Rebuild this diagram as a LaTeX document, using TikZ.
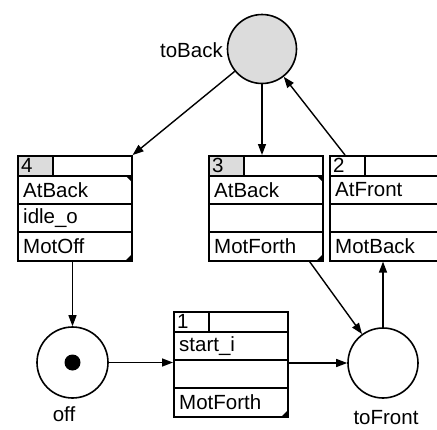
\documentclass[tikz,border=0pt]{standalone}
\usepackage{fontspec}
\setmainfont{Liberation Sans}
\usetikzlibrary{arrows.meta,calc}

\definecolor{lightgrey}{HTML}{DCDCDC}

\tikzset{
  every node/.style={font=\fontsize{20.5}{24}\selectfont},
  place/.style={circle, draw, line width=1.6pt, inner sep=0pt, minimum size=70pt},
  tokendot/.style={circle, fill=black, inner sep=0pt, minimum size=16pt},
  frame/.style={draw, line width=1.6pt, rectangle, inner sep=0pt,
                minimum width=114pt, minimum height=105pt, anchor=north west},
  rowline/.style={line width=1.3pt},
  celltext/.style={anchor=west, inner sep=0pt},
  arc/.style={line width=1.4pt, -{Triangle[length=11pt,width=8pt]}},
  corner/.style={fill=black}
}

% transition box: name, left x, top y, number, header fill, three rows
\newcommand{\transbox}[8]{%
  \fill[#5] (#2,#3) rectangle ({#2+36},{#3+21});
  \draw[rowline] ({#2+36},#3) -- ({#2+36},{#3+21});
  \draw[rowline] (#2,{#3+21}) -- ({#2+114},{#3+21});
  \draw[rowline] (#2,{#3+49}) -- ({#2+114},{#3+49});
  \draw[rowline] (#2,{#3+77}) -- ({#2+114},{#3+77});
  \node[frame] (#1) at (#2,#3) {};
  \node[celltext] (#1-id) at ({#2+4},{#3+10.5}) {#4};
  \node[celltext] (#1-a) at ({#2+6},{#3+35}) {#6};
  \node[celltext] (#1-b) at ({#2+6},{#3+63}) {#7};
  \node[celltext] (#1-c) at ({#2+6},{#3+91.5}) {#8};
  \fill[corner] ({#2+114},{#3+105}) -- ++(-5,0) -- ++(5,-5) -- cycle;
}
\newcommand{\topcorner}[2]{%
  \fill[corner] ({#1+114},{#2+21}) -- ++(-5,0) -- ++(5,5) -- cycle;
}

\begin{document}
\begin{tikzpicture}[x=1pt,y=-1pt]
\useasboundingbox (0,0) rectangle (437,429);
\clip (0,0) rectangle (437,429);

% places
\node[place, fill=lightgrey, minimum size=69pt] (tb) at (262,49) {};
\node[anchor=east, inner sep=0pt] (tblabel) at (223,50) {toBack};
\node[place, minimum size=71pt] (off) at (72.5,362.5) {};
\node[tokendot] (tok) at (off) {};
\node (offlabel) at (64,414) {off};
\node[place] (tf) at (383,363) {};
\node (tflabel) at (386,418) {toFront};

% transitions
\transbox{b4}{17}{155}{4}{lightgrey}{AtBack}{idle\_o}{MotOff}
\topcorner{17}{155}
\transbox{b3}{208}{155}{3}{lightgrey}{AtBack}{}{MotForth}
\topcorner{208}{155}
\transbox{b2}{329}{155}{2}{white}{AtFront}{}{MotBack}
\topcorner{329}{155}
\transbox{b1}{173}{311}{1}{white}{start\_i}{}{MotForth}

% arcs
\coordinate (b2top) at ([xshift=16pt]b2.north west);
\coordinate (b3bot) at ([xshift=-14pt]b3.south east);
\draw[arc] (tb) -- (b4.north east);
\draw[arc] (tb.south) -- (tb.south |- b3.north);
\draw[arc] (b2top) -- (tb);
\draw[arc] (off.north |- b4.south) -- (off.north);
\draw[arc] (off.east) -- (off.east -| b1.west);
\draw[arc] (b1.east |- tf.west) -- (tf.west);
\draw[arc] (b3bot) -- (tf);
\draw[arc] (tf.north) -- (tf.north |- b2.south);
\end{tikzpicture}
\end{document}
